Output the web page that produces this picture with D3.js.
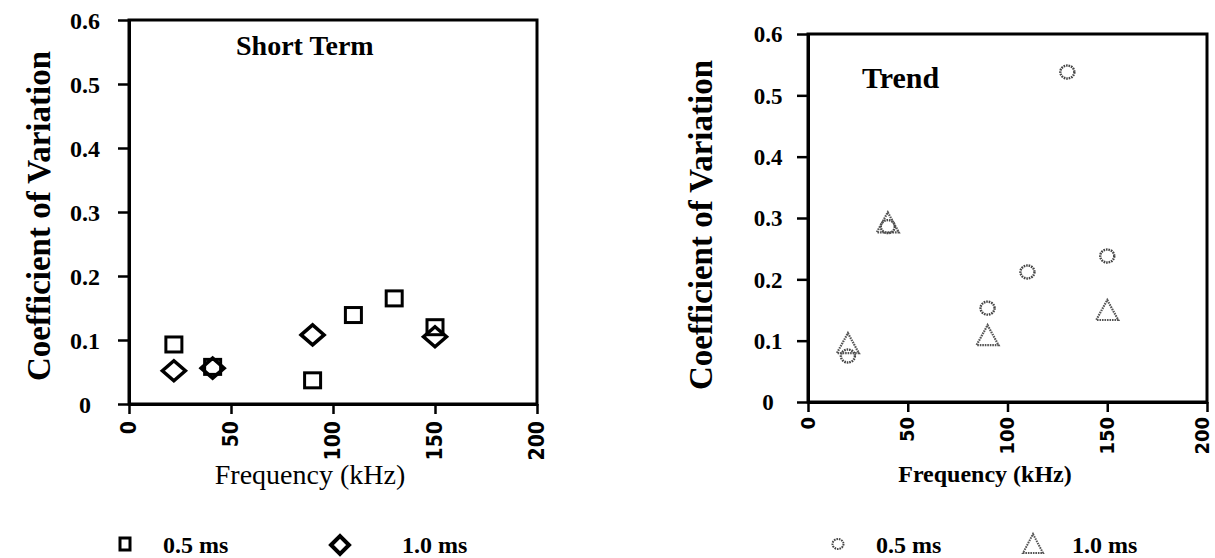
<!DOCTYPE html>
<html>
<head>
<meta charset="utf-8">
<script src="https://cdn.jsdelivr.net/npm/d3@7"></script>
<style>
  body { margin: 0; background: #fff; }
  svg { display: block; }
</style>
</head>
<body>
<div id="chart"></div>
<script>
// data
const yTicks = [0, 0.1, 0.2, 0.3, 0.4, 0.5, 0.6]
const xTicks = [0, 50, 100, 150, 200]

// Short Term panel
const shortFreq05 = [22, 41, 90, 110, 130, 150]
const shortCv05 = [0.093, 0.058, 0.037, 0.139, 0.165, 0.12]
const shortFreq10 = [22, 41, 90, 150]
const shortCv10 = [0.052, 0.056, 0.108, 0.105]

// Trend panel
const trendFreq05 = [20, 40, 90, 110, 130, 150]
const trendCv05 = [0.075, 0.286, 0.153, 0.212, 0.538, 0.238]
const trendFreq10 = [20, 40, 90, 150]
const trendCv10 = [0.096, 0.293, 0.109, 0.15]

const serif = '"Liberation Serif", "Times New Roman", serif'
const narrow = '"Liberation Sans Narrow", "DejaVu Sans Condensed", sans-serif'

const svg = d3.select('#chart').append('svg')
  .attr('width', 1215)
  .attr('height', 558)
  .style('background', '#fff')

function panel (opt) {
  const x = d3.scaleLinear().domain([0, 200]).range([opt.left, opt.right])
  const y = d3.scaleLinear().domain([0, 0.6]).range([opt.bottom, opt.top])
  const g = svg.append('g')

  // frame
  g.append('rect')
    .attr('x', opt.left).attr('y', opt.top)
    .attr('width', opt.right - opt.left).attr('height', opt.bottom - opt.top)
    .attr('fill', 'none').attr('stroke', '#000').attr('stroke-width', 3)

  // y axis
  const ya = g.append('g')
    .attr('transform', `translate(${opt.left},0)`)
    .call(d3.axisLeft(y).tickValues(yTicks).tickSize(11).tickSizeOuter(0)
      .tickFormat(d => d === 0 ? '0' : d3.format('.1f')(d)))
  ya.select('.domain').attr('stroke-width', 3)
  ya.selectAll('.tick line').attr('stroke-width', 2.5)
  ya.selectAll('.tick text')
    .attr('x', -opt.yLabelOff).attr('dy', '0.34em')
    .attr('text-anchor', 'middle')
    .style('font-family', serif).style('font-weight', 'bold')
    .style('font-size', opt.yTickSize + 'px').attr('fill', '#000')

  // x axis, labels turned on their side
  const xa = g.append('g')
    .attr('transform', `translate(0,${opt.bottom})`)
    .call(d3.axisBottom(x).tickValues(xTicks).tickSize(10).tickSizeOuter(0))
  xa.select('.domain').attr('stroke-width', 3)
  xa.selectAll('.tick line').attr('stroke-width', 2.5)
  xa.selectAll('.tick text')
    .attr('y', null).attr('x', null)
    .attr('dy', d => (opt.edge && d === 200) ? '0.08em' : '0.3em')
    .attr('transform', `translate(0,${opt.xLabelTop}) rotate(-90)`)
    .attr('text-anchor', 'end')
    .style('font-family', narrow).style('font-weight', 'bold')
    .style('font-size', opt.xTickSize + 'px').attr('fill', '#000')

  // axis titles
  g.append('text')
    .attr('transform', `translate(${opt.yTitleX},${opt.yTitleY}) rotate(-90)`)
    .attr('text-anchor', 'middle')
    .style('font-family', serif).style('font-weight', 'bold')
    .style('font-size', opt.yTitleSize + 'px')
    .text('Coefficient of Variation')

  g.append('text')
    .attr('x', opt.xTitleX).attr('y', opt.xTitleY)
    .attr('text-anchor', 'middle')
    .style('font-family', serif).style('font-weight', opt.xTitleWeight)
    .style('font-size', opt.xTitleSize + 'px')
    .text('Frequency (kHz)')

  g.append('text')
    .attr('x', opt.titleX).attr('y', opt.titleY)
    .style('font-family', serif).style('font-weight', 'bold')
    .style('font-size', opt.titleSize + 'px')
    .text(opt.title)

  return { g, x, y }
}

// marker shapes
function square (s) {
  const w = 16, h = 15
  s.append('rect').attr('x', -w / 2).attr('y', -h / 2).attr('width', w).attr('height', h)
    .attr('fill', 'none').attr('stroke', '#000').attr('stroke-width', 3)
}
function diamond (s) {
  const w = 11.5, h = 10
  s.append('path').attr('d', `M${-w},0L0,${-h}L${w},0L0,${h}Z`)
    .attr('fill', 'none').attr('stroke', '#000').attr('stroke-width', 3.5)
    .attr('stroke-linejoin', 'miter')
}
function circle (s) {
  s.append('ellipse').attr('rx', 7).attr('ry', 6.5)
    .attr('fill', 'none').attr('stroke', '#444').attr('stroke-width', 2.4)
    .attr('stroke-dasharray', '1.6 0.9')
}
function triangle (s) {
  const w = 11, h = 10
  s.append('path').attr('d', `M0,${-h}L${w},${h}L${-w},${h}Z`)
    .attr('fill', 'none').attr('stroke', '#555').attr('stroke-width', 2.2)
    .attr('stroke-dasharray', '1.6 0.9')
}

function plotPoints (p, xs, ys, shape) {
  p.g.append('g').selectAll('g')
    .data(xs.map((f, i) => [f, ys[i]]))
    .enter().append('g')
    .attr('transform', d => `translate(${p.x(d[0])},${p.y(d[1])})`)
    .each(function () { shape(d3.select(this)) })
}

function legend (items) {
  items.forEach(it => {
    const m = svg.append('g').attr('transform', `translate(${it.mx},${it.my})`)
    it.shape(m)
    svg.append('text').attr('x', it.tx).attr('y', it.ty)
      .style('font-family', serif).style('font-weight', 'bold')
      .style('font-size', '24px')
      .text(it.label)
  })
}

// left panel
const left = panel({
  left: 129, right: 537, top: 20, bottom: 404,
  yLabelOff: 44, yTickSize: 24, xTickSize: 21, xLabelTop: 17,
  yTitleX: 50, yTitleY: 216, yTitleSize: 33,
  xTitleX: 310, xTitleY: 484, xTitleSize: 28, xTitleWeight: 'normal',
  title: 'Short Term', titleX: 236, titleY: 55, titleSize: 28
})
plotPoints(left, shortFreq05, shortCv05, square)
plotPoints(left, shortFreq10, shortCv10, diamond)

// right panel
const right = panel({
  left: 808, right: 1207, top: 34, bottom: 402, edge: true,
  yLabelOff: 40, yTickSize: 23, xTickSize: 20, xLabelTop: 15,
  yTitleX: 712, yTitleY: 225, yTitleSize: 33,
  xTitleX: 985, xTitleY: 482, xTitleSize: 24, xTitleWeight: 'bold',
  title: 'Trend', titleX: 862, titleY: 88, titleSize: 30
})
plotPoints(right, trendFreq05, trendCv05, circle)
plotPoints(right, trendFreq10, trendCv10, triangle)

legend([
  { shape: s => s.append('rect').attr('x', -5).attr('y', -6).attr('width', 10).attr('height', 12)
      .attr('fill', 'none').attr('stroke', '#000').attr('stroke-width', 3),
    mx: 125, my: 544, tx: 163, ty: 553, label: '0.5 ms' },
  { shape: s => s.append('path').attr('d', 'M-9,0L0,-9L9,0L0,9Z')
      .attr('fill', 'none').attr('stroke', '#000').attr('stroke-width', 4),
    mx: 340, my: 545, tx: 402, ty: 553, label: '1.0 ms' },
  { shape: s => s.append('ellipse').attr('rx', 5.5).attr('ry', 5)
      .attr('fill', 'none').attr('stroke', '#444').attr('stroke-width', 2)
      .attr('stroke-dasharray', '1.6 0.9'),
    mx: 838, my: 544, tx: 876, ty: 553, label: '0.5 ms' },
  { shape: s => s.append('path').attr('d', 'M0,-10L10,9L-10,9Z')
      .attr('fill', 'none').attr('stroke', '#555').attr('stroke-width', 2)
      .attr('stroke-dasharray', '1.6 0.9'),
    mx: 1033, my: 544, tx: 1072, ty: 553, label: '1.0 ms' }
])
</script>
</body>
</html>
